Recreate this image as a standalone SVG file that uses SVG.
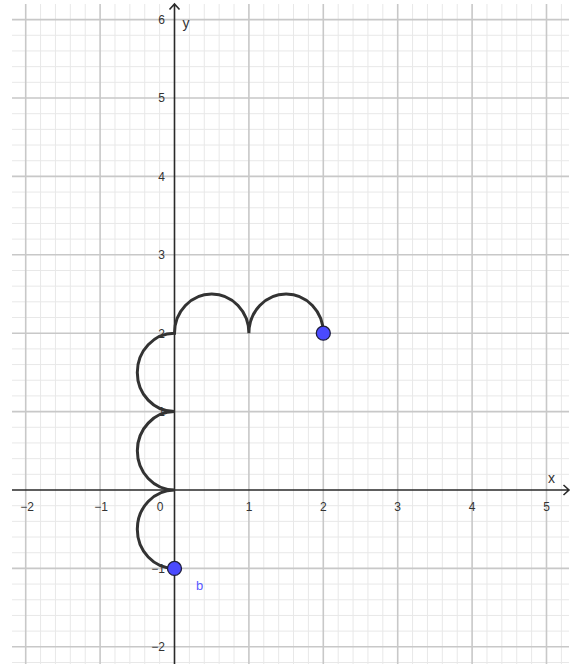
<svg xmlns="http://www.w3.org/2000/svg" width="577" height="666" viewBox="0 0 577 666">
<style>
.minor{stroke:#e8e8e8;stroke-width:1;fill:none}
.major{stroke:#c8c8c8;stroke-width:1.6;fill:none}
.axis{stroke:#2a2a2a;stroke-width:1.6;fill:none}
.tick{font-family:"Liberation Sans",Arial,sans-serif;font-size:12px;fill:#333}
.albl{font-family:"Liberation Sans",Arial,sans-serif;font-size:14px;fill:#333}
.curve{stroke:#333;stroke-width:3;fill:none;stroke-linecap:round}
.pt{fill:#4a4aff;stroke:#1e1e3c;stroke-width:1.3}
</style>
<rect width="577" height="666" fill="#fff"/>
<g id="grid">
<path class="minor" d="M40.58 4V664M55.46 4V664M70.34 4V664M85.22 4V664M114.98 4V664M129.86 4V664M144.74 4V664M159.62 4V664M189.38 4V664M204.26 4V664M219.14 4V664M234.02 4V664M263.78 4V664M278.66 4V664M293.54 4V664M308.42 4V664M338.18 4V664M353.06 4V664M367.94 4V664M382.82 4V664M412.58 4V664M427.46 4V664M442.34 4V664M457.22 4V664M486.98 4V664M501.86 4V664M516.74 4V664M531.62 4V664M561.38 4V664
M12 662.48H569M12 631.12H569M12 615.44H569M12 599.76H569M12 584.08H569M12 552.72H569M12 537.04H569M12 521.36H569M12 505.68H569M12 474.32H569M12 458.64H569M12 442.96H569M12 427.28H569M12 395.92H569M12 380.24H569M12 364.56H569M12 348.88H569M12 317.52H569M12 301.84H569M12 286.16H569M12 270.48H569M12 239.12H569M12 223.44H569M12 207.76H569M12 192.08H569M12 160.72H569M12 145.04H569M12 129.36H569M12 113.68H569M12 82.32H569M12 66.64H569M12 50.96H569M12 35.28H569"/>
<path class="major" d="M25.7 4V664M100.1 4V664M248.9 4V664M323.3 4V664M397.7 4V664M472.1 4V664M546.5 4V664
M12 646.8H569M12 568.4H569M12 411.6H569M12 333.2H569M12 254.8H569M12 176.4H569M12 98H569M12 19.6H569"/>
</g>
<g id="axes">
<path class="axis" d="M12 490H569M563.5 485L569 490L563.5 495"/>
<path class="axis" d="M174.5 664V4M169.5 9.5L174.5 4L179.5 9.5"/>
<text class="albl" x="551.5" y="483" text-anchor="middle">x</text>
<text class="albl" x="186" y="28" text-anchor="middle">y</text>
</g>
<g id="tick-labels">
<text class="tick" x="27" y="511" text-anchor="middle">−2</text>
<text class="tick" x="101" y="511" text-anchor="middle">−1</text>
<text class="tick" x="160" y="511" text-anchor="middle">0</text>
<text class="tick" x="249" y="511" text-anchor="middle">1</text>
<text class="tick" x="323.3" y="511" text-anchor="middle">2</text>
<text class="tick" x="397.7" y="511" text-anchor="middle">3</text>
<text class="tick" x="472.1" y="511" text-anchor="middle">4</text>
<text class="tick" x="546.5" y="511" text-anchor="middle">5</text>
<text class="tick" x="165" y="651.2" text-anchor="end">−2</text>
<text class="tick" x="165" y="572.8" text-anchor="end">−1</text>
<text class="tick" x="165" y="416" text-anchor="end">1</text>
<text class="tick" x="165" y="337.6" text-anchor="end">2</text>
<text class="tick" x="165" y="259.2" text-anchor="end">3</text>
<text class="tick" x="165" y="180.8" text-anchor="end">4</text>
<text class="tick" x="165" y="102.4" text-anchor="end">5</text>
<text class="tick" x="165" y="24" text-anchor="end">6</text>
</g>
<g id="curve">
<path class="curve" d="M174.5 568.4A37.2 39.2 0 0 1 174.5 490A37.2 39.2 0 0 1 174.5 411.6A37.2 39.2 0 0 1 174.5 333.2A37.2 39.2 0 0 1 248.9 333.2A37.2 39.2 0 0 1 323.3 333.2"/>
</g>
<g id="point-A">
<circle class="pt" cx="323.3" cy="333.2" r="7"/>
</g>
<g id="point-b">
<circle class="pt" cx="174.5" cy="568.4" r="7"/>
<text x="199.5" y="590" text-anchor="middle" font-family="'Liberation Sans',Arial,sans-serif" font-size="13" fill="#5a5aff">b</text>
</g>
</svg>
